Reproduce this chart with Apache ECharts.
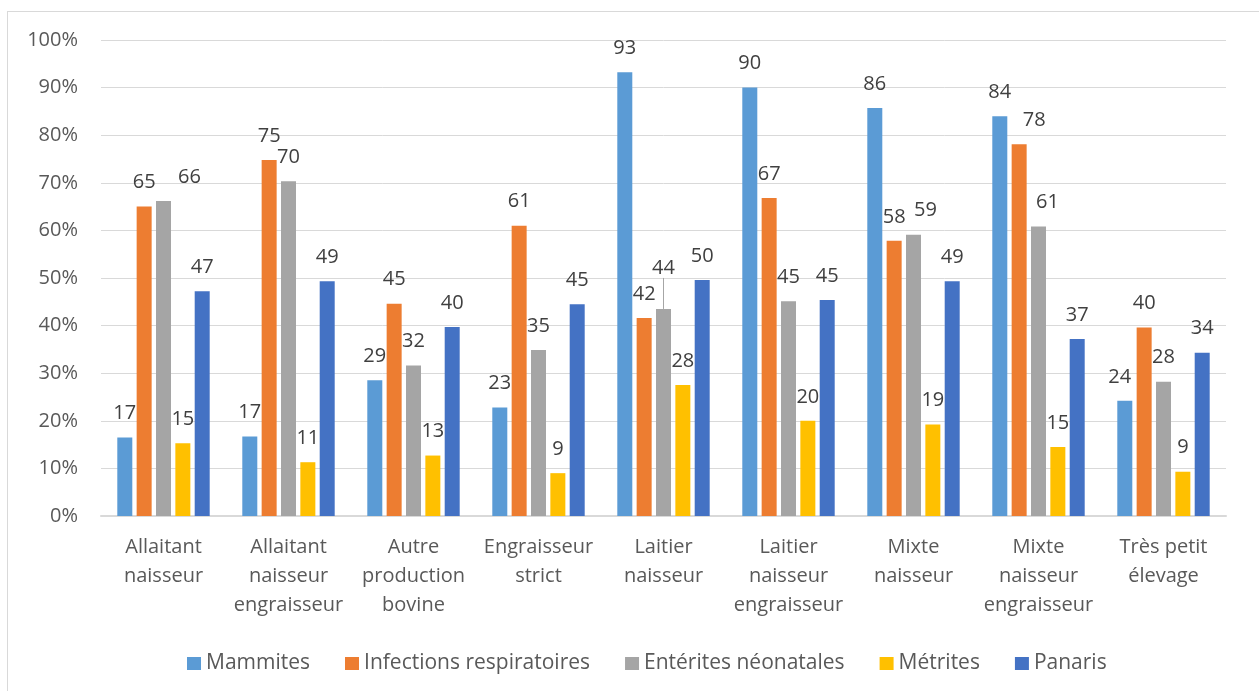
<!DOCTYPE html>
<html lang="fr">
<head>
<meta charset="utf-8">
<title>Maladies par type d'élevage</title>
<script src="https://cdn.jsdelivr.net/npm/echarts@6/dist/echarts.min.js"></script>
<style>
  html, body { margin: 0; padding: 0; background: #ffffff; }
  #frame {
    position: absolute; left: 7px; top: 11px; width: 1300px; height: 740px;
    border: 1px solid #d9d9d9; box-sizing: border-box;
  }
  #chart { position: absolute; left: 0; top: 0; width: 1259px; height: 691px; }
</style>
</head>
<body>
<div id="frame"></div>
<div id="chart"></div>
<script>
// Types d'élevage (catégories de l'axe horizontal)
const categories = [
  'Allaitant\nnaisseur',
  'Allaitant\nnaisseur\nengraisseur',
  'Autre\nproduction\nbovine',
  'Engraisseur\nstrict',
  'Laitier\nnaisseur',
  'Laitier\nnaisseur\nengraisseur',
  'Mixte\nnaisseur',
  'Mixte\nnaisseur\nengraisseur',
  'Très petit\nélevage'
];

// Part des élevages touchés (%) par maladie
const mammites     = [16.5, 16.7, 28.5, 22.8, 93.2, 90.0, 85.7, 84.0, 24.2];
const infections   = [65.0, 74.8, 44.6, 61.0, 41.6, 66.8, 57.8, 78.1, 39.6];
const enterites    = [66.2, 70.3, 31.6, 34.9, 43.5, 45.1, 59.1, 60.8, 28.2];
const metrites     = [15.3, 11.3, 12.7,  9.0, 27.5, 20.0, 19.2, 14.5,  9.3];
const panaris      = [47.2, 49.3, 39.7, 44.5, 49.6, 45.4, 49.3, 37.2, 34.3];

const seriesNames = ['Mammites', 'Infections respiratoires', 'Entérites néonatales', 'Métrites', 'Panaris'];
const seriesValues = [mammites, infections, enterites, metrites, panaris];
const seriesColors = ['#5B9BD5', '#ED7D31', '#A5A5A5', '#FFC000', '#4472C4'];

// Tick labels of the value axis
const yTicks = ['0%', '10%', '20%', '30%', '40%', '50%', '60%', '70%', '80%', '90%', '100%'];

// Label nudges so neighbouring values stay readable: [série, catégorie, dx, dy]
const labelMoves = [
  [2, 0, 26, 0],
  [2, 6, 12, 0],
  [1, 7, 15, 0],
  [2, 7, 9, 0],
  [0, 8, -5, 0],
  [2, 4, 0, -17]   // lifted, joined to its bar by a leader line
];

const font = '"Open Sans", "DejaVu Sans", sans-serif';

const series = seriesValues.map((vals, s) => ({
  name: seriesNames[s],
  type: 'bar',
  barWidth: 15,
  barGap: '29%',
  itemStyle: { color: seriesColors[s] },
  data: vals.map((v, c) => {
    const move = labelMoves.find(d => d[0] === s && d[1] === c);
    return move && move[3] !== 0
      ? { value: v, labelLine: { show: true, lineStyle: { color: '#A6A6A6', width: 1 } } }
      : v;
  }),
  label: {
    show: true,
    position: 'top',
    distance: 14,
    fontFamily: font,
    fontSize: 20,
    color: '#404040',
    formatter: p => Math.round(p.value)
  },
  labelLine: { show: false },
  labelLayout: params => {
    const move = labelMoves.find(d => d[0] === params.seriesIndex && d[1] === params.dataIndex);
    return move ? { dx: move[2], dy: move[3] } : {};
  }
}));

const chart = echarts.init(document.getElementById('chart'), null, { renderer: 'canvas' });
chart.setOption({
  animation: false,
  backgroundColor: 'transparent',
  grid: { left: 101, right: 33, top: 40, bottom: 175, containLabel: false },
  xAxis: {
    type: 'category',
    data: categories,
    axisTick: { show: false },
    axisLine: { lineStyle: { color: '#D9D9D9', width: 2 } },
    axisLabel: {
      interval: 0,
      margin: 17,
      fontFamily: font,
      fontSize: 20,
      lineHeight: 29,
      color: '#595959'
    }
  },
  yAxis: {
    type: 'value',
    min: 0,
    max: 100,
    interval: 10,
    axisLine: { show: false },
    axisTick: { show: false },
    splitLine: { lineStyle: { color: '#D9D9D9', width: 1 } },
    axisLabel: {
      margin: 23,
      fontFamily: font,
      fontSize: 20,
      color: '#595959',
      formatter: v => yTicks[Math.round(v / 10)]
    }
  },
  legend: {
    data: seriesNames,
    left: 182,
    top: 648,
    icon: 'rect',
    itemWidth: 14,
    itemHeight: 13,
    itemGap: 35,
    textStyle: { fontFamily: font, fontSize: 21, color: '#595959' }
  },
  series: series
});
</script>
</body>
</html>
